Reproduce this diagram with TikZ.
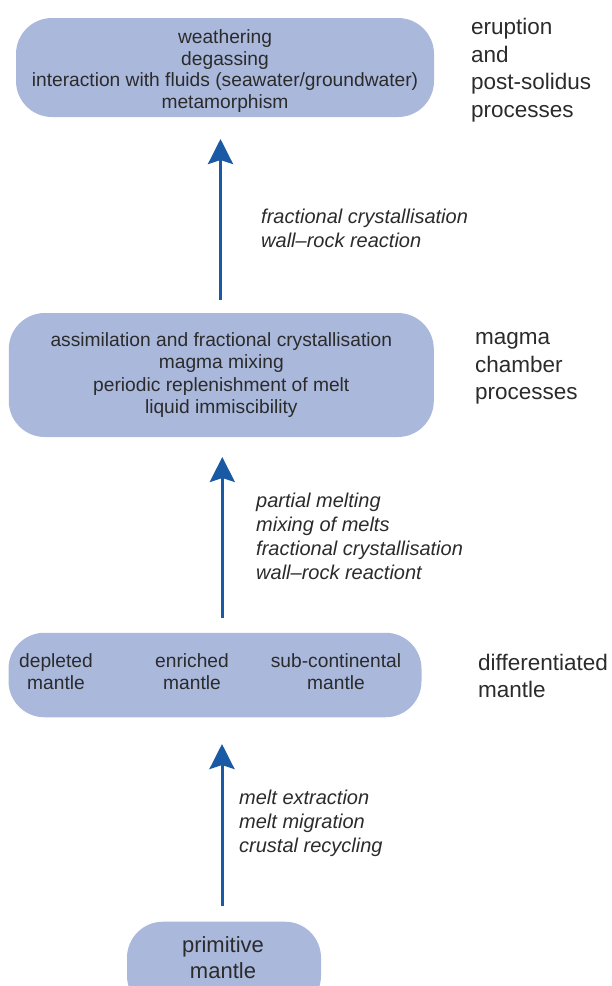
\documentclass[tikz,border=0pt]{standalone}
\usepackage{fontspec}
\setmainfont{Liberation Sans}
\usetikzlibrary{arrows.meta}
\definecolor{boxfill}{HTML}{AAB8DC}
\definecolor{arrowblue}{HTML}{1A5AA5}
\definecolor{txt}{HTML}{2B2B2B}
\begin{document}
\begin{tikzpicture}[x=1pt,y=-1pt,
  procbox/.style={draw=none,fill=boxfill,rounded corners=36pt,inner sep=0pt,
    text=txt,align=center,font=\fontsize{19.2}{22.3}\selectfont},
  coltext/.style={text=txt,align=center,inner sep=0pt,font=\fontsize{19.2}{22.7}\selectfont},
  sidelabel/.style={text=txt,align=left,anchor=west,inner sep=0pt,font=\fontsize{22.5}{27.6}\selectfont},
  arrlabel/.style={text=txt,align=left,anchor=west,inner sep=0pt,font=\fontsize{20}{24}\selectfont\itshape},
  uparrow/.style={draw=arrowblue,line width=3pt,-{Stealth[length=25pt,width=25pt,inset=4pt]}}
]
\useasboundingbox (0,0) rectangle (611,986);

% boxes
\node[procbox,minimum width=418pt,minimum height=99pt] (erupt) at (225,67.5) {};
\node[coltext,font=\fontsize{19.2}{21.6}\selectfont] (erupttext) at (225,71)
  {weathering\\degassing\\interaction with fluids (seawater/groundwater)\\metamorphism};
\node[procbox,minimum width=425pt,minimum height=124pt] (chamber) at (221.3,375)
  {assimilation and fractional crystallisation\\magma mixing\\periodic replenishment of melt\\liquid immiscibility};
\node[procbox,minimum width=413pt,minimum height=84.5pt] (diff) at (215,675) {};
\node[coltext] (depl) at (56,671.5) {depleted\\mantle};
\node[coltext] (enr) at (192,671.5) {enriched\\mantle};
\node[coltext] (subc) at (336,671.5) {sub-continental\\mantle};
\begin{scope}
  \clip (0,0) rectangle (611,986);
  \node[procbox,minimum width=194pt,minimum height=90pt] (prim) at (224,966.7) {};
\end{scope}
\node[text=txt,align=center,inner sep=0pt,font=\fontsize{22}{26}\selectfont] (primtext) at (223,957.5) {primitive\\mantle};

% side labels
\node[sidelabel] (lab1) at (471,70) {eruption\\and\\post-solidus\\processes};
\node[sidelabel] (lab2) at (475,368.5) {magma\\chamber\\processes};
\node[sidelabel] (lab3) at (478,676) {differentiated\\mantle};

% arrows
\coordinate (a1s) at (220.5,300);
\coordinate (a1e) at (220.5,139);
\coordinate (a2s) at (222.3,618);
\coordinate (a2e) at (222.3,457);
\coordinate (a3s) at (222,906);
\coordinate (a3e) at (222,744);
\draw[uparrow] (a1s) -- (a1e);
\draw[uparrow] (a2s) -- (a2e);
\draw[uparrow] (a3s) -- (a3e);

% arrow labels
\node[arrlabel] (al1) at (261,228.5) {fractional crystallisation\\wall--rock reaction};
\node[arrlabel] (al2) at (256,536.5) {partial melting\\mixing of melts\\fractional crystallisation\\wall--rock reactiont};
\node[arrlabel] (al3) at (239,823) {melt extraction\\melt migration\\crustal recycling};
\end{tikzpicture}
\end{document}
